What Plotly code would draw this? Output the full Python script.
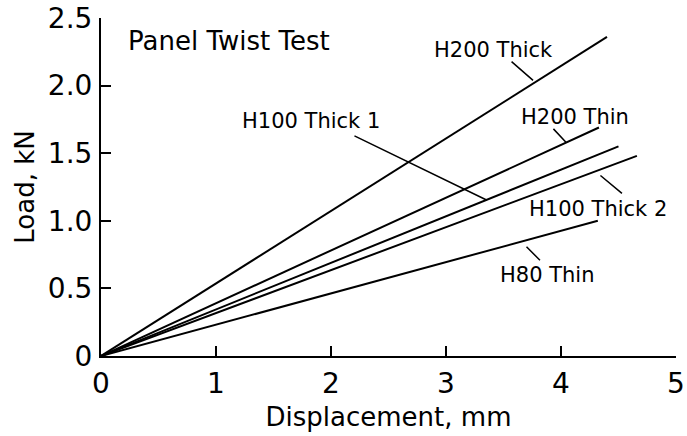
import plotly.graph_objects as go

# Series: end points of each (linear) load-displacement curve
series_names = ["H200 Thick", "H200 Thin", "H100 Thick 1", "H100 Thick 2", "H80 Thin"]
disp_end = [4.40, 4.33, 4.50, 4.66, 4.32]      # mm
load_end = [2.36, 1.69, 1.55, 1.48, 1.00]      # kN

# Label placement (data coords) and leader lines (from -> to)
label_x = [3.41, 4.12, 1.83, 4.32, 3.88]
label_y = [2.26, 1.77, 1.74, 1.085, 0.60]
lead_x0 = [3.557, 3.922, 2.191, 4.330, 3.687]
lead_y0 = [2.187, 1.691, 1.633, 1.344, 0.819]
lead_x1 = [3.757, 4.043, 3.357, 4.530, 3.817]
lead_y1 = [2.039, 1.581, 1.152, 1.203, 0.708]

x_ticks = [0, 1, 2, 3, 4, 5]
x_ticktext = ["0", "1", "2", "3", "4", "5"]
y_ticks = [0, 0.5, 1.0, 1.5, 2.0, 2.5]
y_ticktext = ["0", "0.5", "1.0", "1.5", "2.0", "2.5"]

FONT = "DejaVu Sans"

fig = go.Figure()
for name, xe, ye in zip(series_names, disp_end, load_end):
    fig.add_trace(go.Scatter(x=[0, xe], y=[0, ye], mode="lines", name=name,
                             line=dict(color="black", width=2), showlegend=False))

annotations = []
for name, lx, ly in zip(series_names, label_x, label_y):
    annotations.append(dict(x=lx, y=ly, xref="x", yref="y", text=name, showarrow=False,
                            font=dict(family=FONT, size=21, color="black")))
for x0, y0, x1, y1 in zip(lead_x0, lead_y0, lead_x1, lead_y1):
    annotations.append(dict(x=x1, y=y1, ax=x0, ay=y0, xref="x", yref="y", axref="x", ayref="y",
                            text="", showarrow=True, arrowhead=0, arrowwidth=1.5,
                            arrowcolor="black", standoff=0, startstandoff=0))
annotations.append(dict(x=1.11, y=2.33, xref="x", yref="y", text="Panel Twist Test",
                        showarrow=False, font=dict(family=FONT, size=26, color="black")))

fig.update_layout(
    width=687, height=436,
    margin=dict(l=101, r=11, t=18, b=80),
    paper_bgcolor="white", plot_bgcolor="white",
    font=dict(family=FONT, color="black"),
    annotations=annotations,
    xaxis=dict(range=[0, 5], tickvals=x_ticks, ticktext=x_ticktext, showgrid=False,
               zeroline=False, showline=True, linecolor="black", linewidth=2,
               ticks="inside", ticklen=10, tickwidth=2, tickcolor="black",
               tickfont=dict(size=28, family=FONT), ticklabelstandoff=1, automargin=False,
               title=dict(text="Displacement, mm", font=dict(size=26, family=FONT), standoff=9)),
    yaxis=dict(range=[0, 2.5], tickvals=y_ticks, ticktext=y_ticktext, showgrid=False,
               zeroline=False, showline=True, linecolor="black", linewidth=2,
               ticks="inside", ticklen=10, tickwidth=2, tickcolor="black",
               tickfont=dict(size=28, family=FONT), ticklabelstandoff=1, automargin=False,
               title=dict(text="Load, kN", font=dict(size=26, family=FONT), standoff=6)),
)

fig.write_html("out.html")
